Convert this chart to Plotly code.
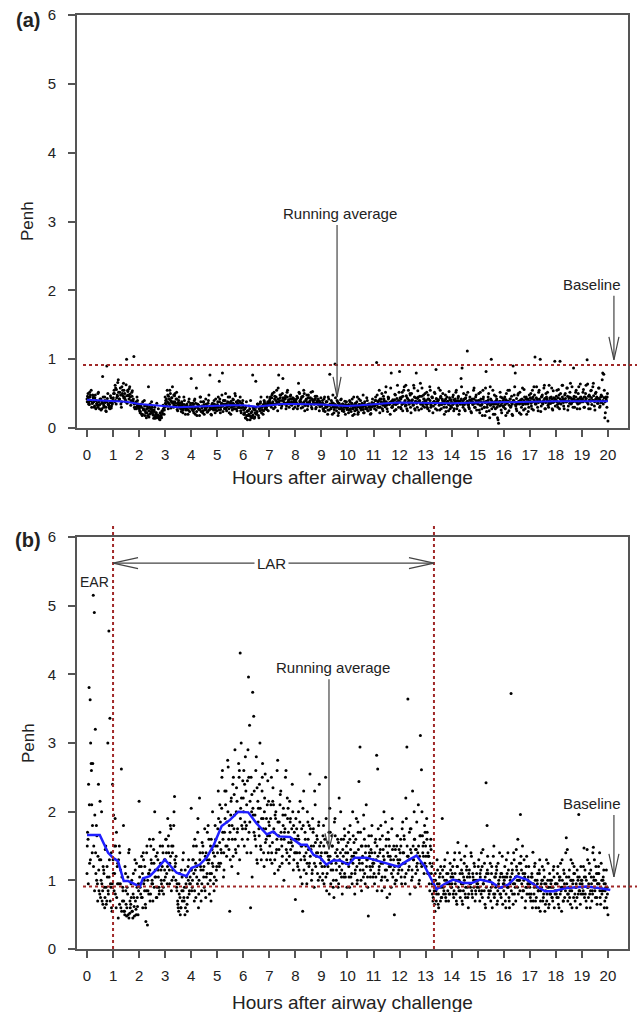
import plotly.graph_objects as go

STEP = 0.04  # sampling interval in hours (25 samples per hour per reading set)

# ---- Panel (a): Penh x100, reading set 1 (on the 0.04 h grid), one list per hour ----
a_h00 = [42,50,38,45,55,36,44,30,48,40,33,52,28,41,36,75,30,45,25,90,50,33,28,44,36]
a_h01 = [40,55,62,35,48,70,42,58,30,50,65,45,38,100,55,47,60,33,52,40,104,28,36,45,30]
a_h02 = [30,22,35,18,28,40,25,15,32,60,20,28,38,24,14,30,22,36,18,15,12,16,25,33,20]
a_h03 = [45,35,55,28,42,50,38,60,30,47,36,52,25,40,33,28,38,22,45,30,26,35,20,42,30]
a_h04 = [72,30,25,40,20,58,35,28,18,45,32,22,38,26,42,30,24,48,77,20,35,28,40,22,33]
a_h05 = [30,45,68,22,35,80,40,28,50,25,38,32,45,20,35,42,28,50,33,25,40,30,45,22,36]
a_h06 = [30,20,15,38,12,25,18,40,15,77,28,16,68,22,35,15,25,45,30,20,40,28,33,45,25]
a_h07 = [38,45,30,50,28,42,35,55,25,77,40,48,32,72,36,44,28,52,38,30,46,35,42,28,40]
a_h08 = [35,42,28,65,50,38,45,30,55,25,40,48,32,44,36,52,28,40,35,46,30,38,42,25,36]
a_h09 = [32,40,25,45,30,38,20,42,78,28,35,48,22,93,30,40,18,36,28,42,25,34,30,20,38]
a_h10 = [30,22,40,28,35,18,45,25,32,38,20,42,30,26,36,48,22,33,28,40,25,35,20,30,42]
a_h11 = [35,28,45,95,30,40,22,38,50,25,42,33,60,28,45,36,20,80,30,40,25,48,35,62,30]
a_h12 = [82,30,45,25,55,38,62,28,42,35,50,22,40,33,58,26,80,30,45,38,65,28,35,48,30]
a_h13 = [35,52,28,42,60,30,45,22,38,50,85,26,40,33,55,28,42,36,20,48,30,38,25,44,32]
a_h14 = [30,45,25,38,52,28,40,20,35,72,87,30,42,25,48,112,33,28,40,22,38,55,30,45,26]
a_h15 = [35,50,22,42,28,55,38,18,82,30,45,25,60,100,35,20,48,28,40,15,7,32,45,22,38]
a_h16 = [30,45,18,38,55,25,42,32,20,90,48,80,28,35,50,22,40,30,58,26,45,35,20,42,30]
a_h17 = [38,50,28,45,60,103,35,42,25,55,100,32,48,38,62,28,45,52,30,40,36,58,26,44,97]
a_h18 = [40,55,30,48,97,35,62,42,28,50,38,58,32,45,65,36,42,87,30,52,40,35,60,28,45]
a_h19 = [38,52,30,45,62,99,35,48,28,55,40,65,32,50,42,36,58,30,45,38,80,78,15,45,30]
a_h20 = [10]

# ---- Panel (a): reading set 2 (+0.02 h) ----
a2_h00 = [46,35,52,40,30,48,38,44,28,36,50,33,42,26,39,45,31,37,24,43,35,29,47,32,40]
a2_h01 = [50,38,58,44,66,40,52,35,60,47,55,42,63,36,48,57,45,38,54,42,30,36,28,40,33]
a2_h02 = [25,32,20,38,27,18,33,22,29,16,35,24,30,19,26,14,22,17,28,13,18,15,21,27,30]
a2_h03 = [40,32,48,36,55,29,44,38,33,50,42,27,37,45,31,24,35,28,40,20,33,27,38,24,36]
a2_h04 = [28,36,22,42,30,18,34,27,45,24,31,38,20,29,35,23,40,27,32,19,36,26,30,42,25]
a2_h05 = [38,26,42,30,48,24,35,40,28,33,45,22,37,30,26,41,34,47,28,36,30,39,25,33,40]
a2_h06 = [20,28,14,24,18,32,12,22,17,30,14,26,20,35,18,28,38,22,32,25,36,30,27,38,33]
a2_h07 = [42,33,48,36,52,30,45,38,58,34,44,29,50,40,35,47,32,55,41,36,48,33,44,38,30]
a2_h08 = [38,46,32,52,40,29,45,36,50,33,42,27,48,38,44,30,53,36,41,28,46,35,39,31,44]
a2_h09 = [35,28,42,24,38,31,45,26,33,40,20,36,30,44,25,38,22,33,41,28,35,24,39,30,27]
a2_h10 = [33,26,38,24,42,30,20,36,28,45,23,34,40,27,31,22,38,29,44,25,35,30,21,37,32]
a2_h11 = [32,40,26,48,35,55,30,42,28,46,38,52,33,24,44,37,58,30,41,35,49,27,43,38,52]
a2_h12 = [44,28,52,36,60,32,47,25,55,40,30,50,36,62,28,44,38,54,26,46,35,58,32,42,50]
a2_h13 = [40,30,48,25,55,36,44,32,52,28,42,38,58,26,46,34,50,30,40,24,45,35,53,28,41]
a2_h14 = [36,48,28,42,55,32,46,25,40,60,34,50,27,44,38,52,30,45,24,42,35,58,30,48,38]
a2_h15 = [40,26,52,33,18,45,30,58,24,38,50,15,42,28,55,35,20,46,30,12,38,52,26,44,32]
a2_h16 = [42,28,50,22,38,55,30,46,18,40,60,32,25,48,36,52,20,42,34,56,28,45,38,24,48]
a2_h17 = [44,32,55,26,48,38,60,30,52,40,24,46,35,58,28,50,42,33,62,36,45,28,54,38,32]
a2_h18 = [46,34,56,28,50,40,62,32,48,38,58,26,44,52,35,60,30,46,40,55,28,50,36,64,42]
a2_h19 = [42,56,30,50,38,64,28,46,54,34,60,40,26,52,44,36,58,32,48,70,35,55,22,40,50]

# ---- Panel (a): reading set 3 (+0.01 h) ----
a3_h00 = [38,44,34,48,40,36,45,32,40,35,30,38,34,42,28,36,33,40,30,38,34,31,37,29,35]
a3_h01 = [44,50,40,56,46,52,42,48,38,55,44,50,40,47,53,42,49,40,46,38,35,30,38,32,35]
a3_h02 = [28,24,30,20,26,32,22,28,18,25,30,22,27,20,24,17,20,15,19,16,22,18,24,28,26]
a3_h03 = [36,42,38,46,34,40,44,36,48,38,32,42,34,30,36,28,32,26,34,30,28,32,26,30,33]
a3_h04 = [32,26,34,28,36,24,30,33,27,38,29,25,34,30,27,32,36,26,30,28,33,29,35,27,30]
a3_h05 = [34,30,38,27,36,32,40,29,35,31,37,28,34,39,30,36,32,28,38,33,35,30,37,29,34]
a3_h06 = [26,22,30,18,25,20,28,16,24,19,27,22,30,24,34,28,36,30,26,34,38,32,30,36,34]
a3_h07 = [40,36,44,38,34,46,40,36,42,38,48,35,40,44,37,42,36,45,39,35,42,38,36,43,37]
a3_h08 = [40,36,44,34,38,42,35,46,38,33,41,37,44,36,40,34,42,38,35,43,37,40,34,39,36]
a3_h09 = [32,36,28,34,30,38,26,33,35,29,37,31,27,34,32,30,36,28,33,31,35,27,32,34,30]
a3_h10 = [30,34,27,32,36,28,33,30,35,26,31,34,29,33,30,27,35,32,28,34,30,33,27,31,35]
a3_h11 = [36,32,40,34,38,30,42,35,37,33,40,31,38,35,42,34,36,39,32,37,41,34,38,36,40]
a3_h12 = [38,42,34,46,36,40,33,44,38,35,48,37,41,34,45,39,36,43,38,40,35,46,37,42,39]
a3_h13 = [38,34,42,36,40,33,45,37,39,35,43,38,41,34,44,36,40,38,35,42,37,39,34,41,37]
a3_h14 = [37,34,41,36,39,33,44,38,35,42,37,40,34,43,36,39,35,41,37,38,34,42,36,40,37]
a3_h15 = [36,40,33,38,35,42,30,37,39,34,41,36,33,40,37,31,38,35,42,34,37,39,33,36,40]
a3_h16 = [38,34,41,36,39,33,42,37,35,40,38,34,43,36,39,35,41,37,34,40,36,42,38,35,39]
a3_h17 = [40,36,43,38,41,35,44,39,37,42,38,45,36,40,43,37,41,39,36,44,38,42,37,40,43]
a3_h18 = [41,38,44,36,42,39,45,37,40,43,38,46,40,36,44,41,38,43,39,45,37,42,40,44,38]
a3_h19 = [42,38,45,40,43,37,46,41,39,44,40,47,38,42,45,39,43,41,37,46,40,44,38,42,45]

# ---- Panel (b): Penh x100, reading set 1 ----
b_h00 = [110,160,381,363,270,140,515,490,320,180,95,240,130,75,200,85,115,60,150,70,300,463,336,90,55]
b_h01 = [130,85,190,60,120,45,150,95,262,70,180,55,110,48,80,140,52,65,100,45,75,130,58,90,50]
b_h02 = [215,90,120,75,140,100,65,85,35,110,160,80,125,95,145,200,105,75,130,90,170,115,85,140,100]
b_h03 = [130,160,95,150,115,180,85,140,105,222,125,90,70,55,110,60,85,130,75,50,95,65,120,80,105]
b_h04 = [205,90,130,70,115,150,95,60,220,120,85,140,105,175,75,130,95,160,110,70,145,120,85,180,100]
b_h05 = [150,230,120,185,140,260,105,170,210,135,275,160,55,195,120,240,175,290,140,215,110,250,431,300,160]
b_h06 = [220,150,280,180,245,396,326,60,200,374,339,165,260,130,215,175,300,145,230,190,120,255,160,210,140]
b_h07 = [180,130,250,155,210,110,190,145,275,165,120,230,150,195,100,175,260,140,205,125,185,155,240,115,170]
b_h08 = [72,160,125,200,140,105,175,55,230,130,150,95,185,120,255,145,110,170,90,210,135,160,100,240,125]
b_h09 = [140,100,180,120,250,85,155,130,205,95,165,115,75,190,125,145,90,220,110,160,80,135,175,105,150]
b_h10 = [125,170,90,145,110,200,135,80,160,120,185,244,294,100,150,115,175,95,210,130,48,140,105,165,120]
b_h11 = [130,95,160,282,262,110,140,180,85,125,200,105,150,75,170,120,135,90,190,115,50,145,100,165,125]
b_h12 = [120,160,95,185,140,105,220,294,364,130,80,175,115,150,200,90,145,125,210,100,311,261,165,135,180]
b_h13 = [150,190,110,135,85,160,120,70,100,55,85,130,65,95,110,75,190,90,120,80,100,140,70,95,115]
b_h14 = [90,120,75,140,100,65,155,85,110,130,70,95,125,80,150,105,60,115,90,135,75,100,120,85,110]
b_h15 = [95,130,70,115,85,145,100,65,242,180,110,80,125,90,60,135,75,105,120,70,95,140,80,110,65]
b_h16 = [85,120,60,105,140,75,95,372,110,65,130,90,145,100,80,125,196,115,150,85,105,70,135,95,120]
b_h17 = [90,70,110,141,80,125,60,100,85,115,55,95,120,75,105,65,130,90,60,110,80,100,70,120,85]
b_h18 = [95,75,120,60,105,85,130,70,110,90,162,145,80,115,65,100,125,75,110,90,60,105,196,85,120]
b_h19 = [100,80,147,115,70,145,90,125,60,105,85,148,130,75,110,95,120,140,65,100,85,115,70,90,60]
b_h20 = [50]

# ---- Panel (b): reading set 2 (+0.02 h) ----
b2_h00 = [170,240,125,300,210,270,150,195,110,165,135,85,215,100,70,120,90,145,65,105,80,130,95,60,240]
b2_h01 = [195,110,150,75,125,95,140,60,105,85,55,120,65,90,50,145,60,75,55,110,48,70,125,62,85]
b2_h02 = [105,80,135,60,95,120,40,150,85,110,70,130,100,160,90,115,75,140,105,85,125,95,150,80,115]
b2_h03 = [160,110,190,140,125,175,100,150,200,120,135,95,60,80,50,115,70,140,90,60,105,75,130,95,115]
b2_h04 = [85,130,110,160,75,120,190,100,140,70,155,115,90,135,105,170,125,80,150,110,200,95,135,160,120]
b2_h05 = [175,125,210,145,250,160,115,190,230,150,265,180,130,220,160,250,195,145,235,175,270,130,205,180,245]
b2_h06 = [260,185,230,140,290,170,215,250,105,195,230,160,280,125,205,240,150,190,270,140,220,175,130,245,185]
b2_h07 = [150,210,125,235,170,195,140,260,115,185,225,160,135,205,170,250,130,190,155,215,145,175,200,130,160]
b2_h08 = [190,140,165,115,215,150,95,180,135,160,110,200,145,125,175,100,190,150,230,120,165,140,185,105,155]
b2_h09 = [120,165,95,140,190,110,135,80,170,125,150,100,185,140,115,160,95,130,200,115,145,105,165,125,90]
b2_h10 = [155,105,180,130,95,165,140,115,190,100,145,125,170,85,135,195,110,150,130,90,165,120,145,180,105]
b2_h11 = [110,155,130,85,175,120,145,100,165,135,90,185,115,140,160,80,130,175,105,150,95,135,165,110,145]
b2_h12 = [140,105,175,125,160,95,190,135,115,170,145,100,230,130,160,110,185,140,95,165,125,200,150,110,170]
b2_h13 = [120,170,135,95,150,110,80,125,65,100,80,115,60,90,120,75,105,85,130,70,95,110,80,125,90]
b2_h14 = [110,80,130,95,70,120,100,140,85,115,65,105,135,90,120,75,110,95,140,80,105,125,70,100,90]
b2_h15 = [120,85,105,140,75,95,125,60,110,135,85,100,70,120,95,150,80,110,65,125,90,105,75,135,95]
b2_h16 = [100,70,130,90,115,60,105,125,80,140,95,70,115,160,100,85,135,75,110,130,60,120,90,105,80]
b2_h17 = [75,105,60,95,120,70,90,110,60,130,85,100,70,115,55,95,80,125,65,100,90,75,115,60,95]
b2_h18 = [80,110,65,100,125,55,90,115,75,140,95,70,105,85,130,60,100,120,70,95,115,80,105,65,100]
b2_h19 = [90,120,75,105,60,130,95,80,115,70,140,100,85,120,65,110,95,75,125,85,105,60,95,115,80]

# ---- Panel (b): reading set 3 (+0.01 h) ----
b3_h00 = [150,95,210,130,260,180,120,85,140,100,70,115,80,130,95,65,110,75,90,120,85,105,70,140,95]
b3_h01 = [110,150,80,170,95,130,65,115,55,90,70,50,85,60,105,45,70,95,55,80,62,115,50,75,95]
b3_h02 = [120,95,75,110,130,85,60,140,100,80,115,150,95,70,125,105,135,90,115,80,150,100,120,90,130]
b3_h03 = [105,140,120,165,95,135,150,115,180,130,100,85,65,95,75,60,105,85,70,115,90,55,100,85,95]
b3_h04 = [115,100,150,85,125,105,170,80,130,115,95,150,120,85,140,110,180,130,100,160,125,140,105,150,115]
b3_h05 = [140,190,155,125,205,170,140,230,150,185,200,145,170,215,180,135,225,160,200,170,150,260,190,220,175]
b3_h06 = [200,240,175,210,160,250,185,140,225,205,170,195,150,235,185,165,205,130,250,175,200,155,190,165,215]
b3_h07 = [165,190,140,215,175,130,200,160,185,145,210,170,125,180,160,195,145,220,170,135,190,160,150,180,140]
b3_h08 = [140,175,120,160,185,130,150,205,115,170,140,125,160,180,135,150,115,175,125,155,140,110,180,150,135]
b3_h09 = [130,110,150,160,105,140,120,170,135,115,150,90,130,165,100,135,155,120,140,105,125,160,110,140,130]
b3_h10 = [140,120,160,105,135,125,155,110,140,95,170,130,115,150,125,105,160,140,120,105,150,135,115,140,125]
b3_h11 = [125,140,105,150,135,115,160,125,105,145,130,115,160,100,135,150,120,110,145,130,120,100,150,130,115]
b3_h12 = [130,150,115,140,165,125,110,150,135,120,175,140,105,130,160,145,120,115,150,135,165,120,140,155,125]
b3_h13 = [135,160,140,110,125,145,95,75,85,110,70,95,80,105,70,90,115,80,100,75,110,85,95,80,105]
b3_h14 = [95,105,85,110,80,120,90,100,75,95,110,85,100,75,115,90,80,105,95,85,110,90,100,80,95]
b3_h15 = [100,90,110,80,120,95,85,105,90,115,75,100,85,110,95,80,105,90,115,85,100,80,110,90,105]
b3_h16 = [95,105,80,110,90,70,100,85,115,95,80,105,120,90,110,100,125,95,85,100,110,90,80,100,95]
b3_h17 = [95,80,105,70,90,100,75,95,85,110,70,90,100,80,95,85,70,100,90,80,95,75,90,105,80]
b3_h18 = [85,95,75,105,80,90,100,70,95,85,105,80,90,75,100,85,95,110,80,90,75,100,85,95,80]
b3_h19 = [95,85,105,80,100,90,75,110,85,95,80,105,90,100,75,95,110,85,90,80,100,95,85,75,90]

# ---- Running averages ----
ra_a_x = [0,0.5,1,1.5,2,2.5,3,3.5,4,4.5,5,5.5,6,6.5,7,7.5,8,8.5,9,9.5,10,10.5,11,11.5,12,13,14,15,16,17,18,19,20]
ra_a_y = [0.41,0.40,0.39,0.38,0.35,0.33,0.31,0.30,0.31,0.32,0.33,0.33,0.33,0.31,0.33,0.35,0.35,0.35,0.34,0.33,
          0.32,0.33,0.35,0.36,0.37,0.36,0.36,0.37,0.37,0.38,0.39,0.39,0.39]
ra_b_x = [0,0.49,0.81,1.0,1.19,1.41,1.58,2.03,2.15,2.41,2.67,2.99,3.44,3.82,4.01,4.33,4.59,4.85,5.17,5.49,
          5.81,6.19,6.51,6.9,7.15,7.35,7.79,8.2,8.44,8.7,8.95,9.19,9.45,9.71,10.03,10.28,10.73,11.24,11.5,11.95,
          12.27,12.65,12.97,13.23,13.42,13.74,14.06,14.45,14.77,15.09,15.54,15.86,16.18,16.5,16.88,17.27,17.59,
          17.91,18.42,18.81,19.19,19.64,20.09]
ra_b_y = [1.66,1.66,1.40,1.33,1.28,0.99,0.99,0.91,1.03,1.06,1.16,1.30,1.11,1.06,1.18,1.23,1.33,1.50,1.79,1.88,
          2.00,1.99,1.83,1.67,1.71,1.64,1.63,1.52,1.52,1.37,1.33,1.23,1.29,1.29,1.23,1.33,1.33,1.28,1.25,1.20,
          1.28,1.36,1.20,1.01,0.87,0.95,1.01,0.96,0.96,1.01,0.97,0.89,0.94,1.06,1.01,0.91,0.84,0.84,0.89,0.90,
          0.91,0.89,0.86]

baseline_a = 0.915
baseline_b = 0.91
ear_end = 1.0
lar_end = 13.32
x_ticks = list(range(0, 21))
y_ticks = [0, 1, 2, 3, 4, 5, 6]

a1 = [a_h00,a_h01,a_h02,a_h03,a_h04,a_h05,a_h06,a_h07,a_h08,a_h09,a_h10,
      a_h11,a_h12,a_h13,a_h14,a_h15,a_h16,a_h17,a_h18,a_h19,a_h20]
a2 = [a2_h00,a2_h01,a2_h02,a2_h03,a2_h04,a2_h05,a2_h06,a2_h07,a2_h08,a2_h09,
      a2_h10,a2_h11,a2_h12,a2_h13,a2_h14,a2_h15,a2_h16,a2_h17,a2_h18,a2_h19]
a3 = [a3_h00,a3_h01,a3_h02,a3_h03,a3_h04,a3_h05,a3_h06,a3_h07,a3_h08,a3_h09,
      a3_h10,a3_h11,a3_h12,a3_h13,a3_h14,a3_h15,a3_h16,a3_h17,a3_h18,a3_h19]
b1 = [b_h00,b_h01,b_h02,b_h03,b_h04,b_h05,b_h06,b_h07,b_h08,b_h09,b_h10,
      b_h11,b_h12,b_h13,b_h14,b_h15,b_h16,b_h17,b_h18,b_h19,b_h20]
b2 = [b2_h00,b2_h01,b2_h02,b2_h03,b2_h04,b2_h05,b2_h06,b2_h07,b2_h08,b2_h09,
      b2_h10,b2_h11,b2_h12,b2_h13,b2_h14,b2_h15,b2_h16,b2_h17,b2_h18,b2_h19]
b3 = [b3_h00,b3_h01,b3_h02,b3_h03,b3_h04,b3_h05,b3_h06,b3_h07,b3_h08,b3_h09,
      b3_h10,b3_h11,b3_h12,b3_h13,b3_h14,b3_h15,b3_h16,b3_h17,b3_h18,b3_h19]


def series(sets):
    t_all, v_all = [], []
    for offset, hours in sets:
        vals = [v / 100 for h in hours for v in h]
        t_all += [round(i * STEP + offset, 3) for i in range(len(vals))]
        v_all += vals
    return t_all, v_all


a_time, a_penh = series([(0.0, a1), (0.02, a2), (0.01, a3)])
b_time, b_penh = series([(0.0, b1), (0.02, b2), (0.01, b3)])

W, H = 638, 1012
FONT = "Liberation Sans, Arial, Helvetica, sans-serif"
AX = "#555555"
RED = "#a02828"
TXT = "#222222"
XR = [-0.384, 20.77]
PX_X = 551 / (XR[1] - XR[0])   # pixels per hour
PX_Y = 412 / 6.0               # pixels per Penh unit

fig = go.Figure()
fig.add_trace(go.Scatter(x=a_time, y=a_penh, mode="markers", xaxis="x", yaxis="y",
                         marker=dict(color="black", size=3), showlegend=False, hoverinfo="skip"))
fig.add_trace(go.Scatter(x=ra_a_x, y=ra_a_y, mode="lines", xaxis="x", yaxis="y",
                         line=dict(color="#1f1fff", width=2), showlegend=False))
fig.add_trace(go.Scatter(x=b_time, y=b_penh, mode="markers", xaxis="x2", yaxis="y2",
                         marker=dict(color="black", size=3), showlegend=False, hoverinfo="skip"))
fig.add_trace(go.Scatter(x=ra_b_x, y=ra_b_y, mode="lines", xaxis="x2", yaxis="y2",
                         line=dict(color="#1f1fff", width=2.5), showlegend=False))

axis_common = dict(showline=True, linecolor=AX, linewidth=2, mirror=True, ticks="outside",
                   ticklen=7, tickwidth=1.5, tickcolor=AX, showgrid=False, zeroline=False,
                   tickfont=dict(family=FONT, size=15, color=TXT))
dom_x = [77 / W, 628 / W]
fig.update_layout(
    width=W, height=H, margin=dict(l=0, r=0, t=0, b=0, autoexpand=False),
    paper_bgcolor="white", plot_bgcolor="white",
    xaxis=dict(domain=dom_x, range=XR, tickvals=x_ticks, anchor="y", ticklabelstandoff=5, **axis_common),
    yaxis=dict(domain=[1 - 428 / H, 1 - 15 / H], range=[0, 6], tickvals=y_ticks, anchor="x",
               ticklabelstandoff=9, **axis_common),
    xaxis2=dict(domain=dom_x, range=XR, tickvals=x_ticks, anchor="y2", ticklabelstandoff=5, **axis_common),
    yaxis2=dict(domain=[1 - 949 / H, 1 - 537 / H], range=[0, 6], tickvals=y_ticks, anchor="x2",
                ticklabelstandoff=9, **axis_common),
)

shapes = []
dot = dict(color=RED, width=2, dash="dot")
shapes.append(dict(type="line", xref="paper", yref="y", x0=83 / W, x1=637 / W, y0=baseline_a, y1=baseline_a, line=dot))
shapes.append(dict(type="line", xref="paper", yref="y2", x0=83 / W, x1=637 / W, y0=baseline_b, y1=baseline_b, line=dot))
for xv in (ear_end, lar_end):
    shapes.append(dict(type="line", xref="x2", yref="paper", x0=xv, x1=xv, y0=1 - 949 / H, y1=1 - 523 / H, line=dot))

arrow_line = dict(color="#444444", width=1.2)


def vhead(xr, yr, tx, ty, direction, length, half):
    dx, dy = length / PX_X, length / PX_Y
    hx, hy = half / PX_X, half / PX_Y
    if direction == "down":
        p = f"M {tx-hx},{ty+dy} L {tx},{ty} L {tx+hx},{ty+dy}"
    elif direction == "left":
        p = f"M {tx+dx},{ty+hy} L {tx},{ty} L {tx+dx},{ty-hy}"
    else:
        p = f"M {tx-dx},{ty+hy} L {tx},{ty} L {tx-dx},{ty-hy}"
    return dict(type="path", xref=xr, yref=yr, path=p, line=arrow_line)


shapes.append(dict(type="line", xref="x", yref="y", x0=9.6, x1=9.6, y0=2.95, y1=0.45, line=arrow_line))
shapes.append(vhead("x", "y", 9.6, 0.45, "down", 20, 4))
shapes.append(dict(type="line", xref="x2", yref="y2", x0=9.29, x1=9.29, y0=3.93, y1=1.45, line=arrow_line))
shapes.append(vhead("x2", "y2", 9.29, 1.45, "down", 16, 4))
shapes.append(dict(type="line", xref="x", yref="y", x0=20.23, x1=20.23, y0=1.92, y1=0.99, line=arrow_line))
shapes.append(vhead("x", "y", 20.23, 0.99, "down", 23, 5))
shapes.append(dict(type="line", xref="x2", yref="y2", x0=20.23, x1=20.23, y0=1.95, y1=1.05, line=arrow_line))
shapes.append(vhead("x2", "y2", 20.23, 1.05, "down", 23, 5))
shapes.append(dict(type="line", xref="x2", yref="y2", x0=ear_end, x1=lar_end, y0=5.62, y1=5.62, line=arrow_line))
shapes.append(vhead("x2", "y2", ear_end, 5.62, "left", 25, 5.5))
shapes.append(vhead("x2", "y2", lar_end, 5.62, "right", 25, 5.5))
fig.update_layout(shapes=shapes)


def txt(x, y, s, xref, yref, size=15, **kw):
    return dict(x=x, y=y, xref=xref, yref=yref, text=s, showarrow=False,
                xanchor="center", yanchor="middle",
                font=dict(family=FONT, size=size, color=TXT), **kw)


ann = [
    txt(9.7, 3.12, "Running average", "x", "y", 15),
    txt(19.39, 2.09, "Baseline", "x", "y", 15),
    txt(9.44, 4.10, "Running average", "x2", "y2", 15),
    txt(19.39, 2.12, "Baseline", "x2", "y2", 15),
    txt(0.3, 5.34, "EAR", "x2", "y2", 14),
    txt(7.1, 5.62, "LAR", "x2", "y2", 15, bgcolor="white", borderpad=2),
    txt(28 / W, 1 - 20 / H, "<b>(a)</b>", "paper", "paper", 20),
    txt(28 / W, 1 - 540 / H, "<b>(b)</b>", "paper", "paper", 20),
    txt(28 / W, 1 - 221 / H, "Penh", "paper", "paper", 17, textangle=-90),
    txt(28 / W, 1 - 743 / H, "Penh", "paper", "paper", 17, textangle=-90),
    txt(352.5 / W, 1 - 478 / H, "Hours after airway challenge", "paper", "paper", 19),
    txt(352.5 / W, 1 - 1002 / H, "Hours after airway challenge", "paper", "paper", 19),
]
fig.update_layout(annotations=ann)

fig.write_html("out.html", config={"displayModeBar": False},
               post_script="document.body.style.margin='0';document.body.style.overflow='hidden';")
